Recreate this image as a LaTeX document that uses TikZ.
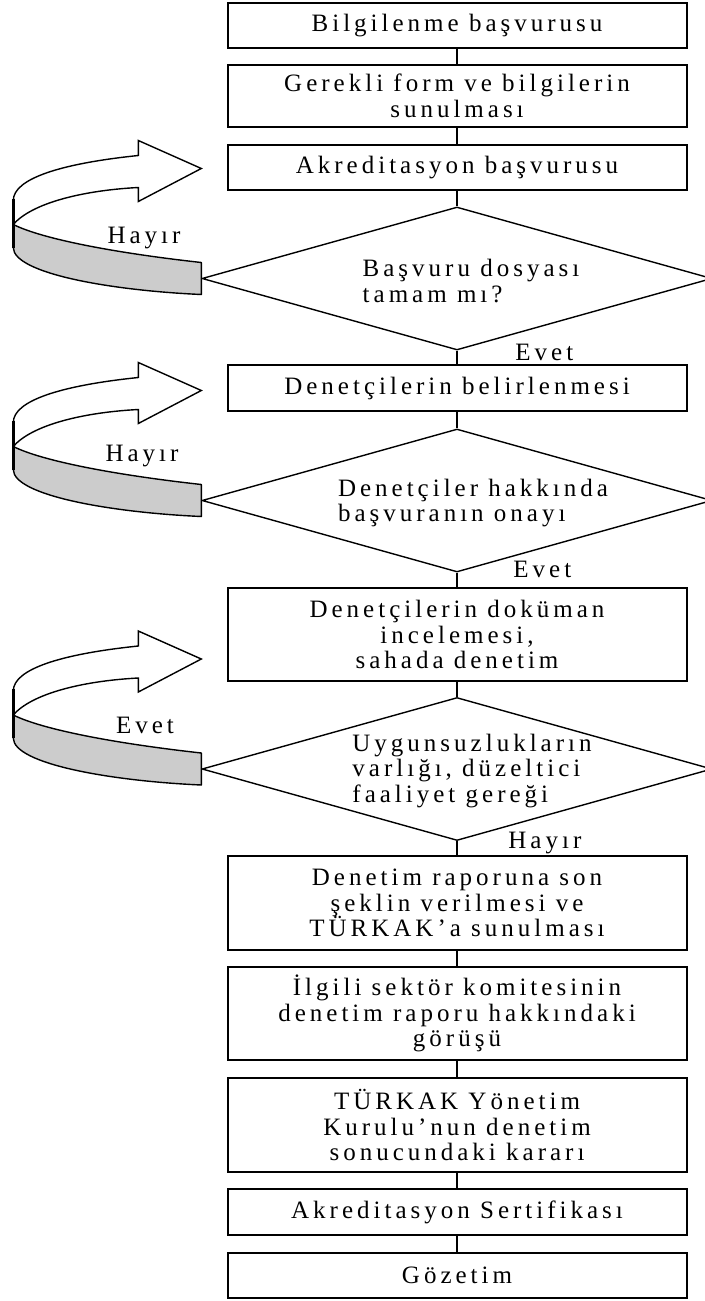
\documentclass[tikz,border=0pt]{standalone}
\usepackage{fontspec}
\setmainfont{Liberation Serif}[LetterSpace=16]
\usetikzlibrary{shapes.geometric}

\tikzset{
  txt/.style={font=\fontsize{12.5}{12.8}\selectfont, inner sep=0pt},
  stepbox/.style={draw, line width=1pt, minimum width=229.5pt, align=center, txt},
  dia/.style={draw, shape=diamond, line width=0.7pt, minimum width=255pt, minimum height=71.5pt, inner sep=0pt},
  dtext/.style={align=left, txt},
  link/.style={line width=1pt},
  % 3D ribbon arrow looping back from a decision to the step above it;
  % origin is the right end of the grey band
  loop arrow/.pic={
    \fill[gray!40] (-188,-54) -- (-188,-31)
      .. controls (-188,-5) and (-90,12) .. (0,16) -- (0,-16)
      .. controls (-90,-26) and (-160,-40) .. (-188,-54) -- cycle;
    \draw[line width=0.7pt, line join=round]
      (-188,-31) .. controls (-188,-5) and (-90,12) .. (0,16) -- (0,-16)
      .. controls (-90,-26) and (-160,-40) .. (-188,-54);
    \draw[fill=white, line width=0.7pt, line join=miter]
      (-63,-123) -- (-63,-138) -- (0,-110) -- (-63,-77) -- (-63,-91)
      .. controls (-120,-88) and (-170,-75) .. (-188,-54)
      -- (-188,-78)
      .. controls (-188,-100) and (-140,-115) .. (-63,-123) -- cycle;
    \draw[line width=1.3pt] (-188,-80) -- (-188,-31);
  }
}

\begin{document}
\begin{tikzpicture}[x=0.5pt, y=-0.5pt]
\useasboundingbox (0,0) rectangle (705,1301);

% process steps and decisions
\node[stepbox, minimum height=22.5pt] (b1) at (457,25.5) {Bilgilenme başvurusu};
\node[stepbox, minimum height=31pt] (b2) at (457,96) {Gerekli form ve bilgilerin\\sunulması};
\node[stepbox, minimum height=22.5pt] (b3) at (457,167.5) {Akreditasyon başvurusu};
\node[dia] (d1) at (457,278.5) {};
\node[dtext] at (471,281) {Başvuru dosyası\\tamam mı?};
\node[stepbox, minimum height=23pt] (b4) at (457,388) {Denetçilerin belirlenmesi};
\node[dia] (d2) at (457,500.5) {};
\node[dtext] at (473,503) {Denetçiler hakkında\\başvuranın onayı};
\node[stepbox, minimum height=46.5pt] (b5) at (457,634.5) {Denetçilerin doküman\\incelemesi,\\sahada denetim};
\node[dia] (d3) at (457,769) {};
\node[dtext] at (472,771) {Uygunsuzlukların\\varlığı, düzeltici\\faaliyet gereği};
\node[stepbox, minimum height=47pt] (b6) at (457,903) {Denetim raporuna son\\şeklin verilmesi ve\\TÜRKAK’a sunulması};
\node[stepbox, minimum height=46.5pt] (b7) at (457,1013.5) {İlgili sektör komitesinin\\denetim raporu hakkındaki\\görüşü};
\node[stepbox, minimum height=47pt] (b8) at (457,1125) {TÜRKAK Yönetim\\Kurulu’nun denetim\\sonucundaki kararı};
\node[stepbox, minimum height=23pt] (b9) at (457,1212) {Akreditasyon Sertifikası};
\node[stepbox, minimum height=22.5pt] (b10) at (457,1275.5) {Gözetim};

% vertical connectors
\draw[link] (b1) -- (b2);
\draw[link] (b2) -- (b3);
\draw[link] (b3) -- (d1);
\draw[link] (d1) -- (b4);
\draw[link] (b4) -- (d2);
\draw[link] (d2) -- (b5);
\draw[link] (b5) -- (d3);
\draw[link] (d3) -- (b6);
\draw[link] (b6) -- (b7);
\draw[link] (b7) -- (b8);
\draw[link] (b8) -- (b9);
\draw[link] (b9) -- (b10);

% loop-back arrows
\pic at (d1.west) {loop arrow};
\pic at (d2.west) {loop arrow};
\pic at (d3.west) {loop arrow};

% branch labels
\node[txt] (l1) at (144,238) {Hayır};
\node[txt] (l2) at (142,456) {Hayır};
\node[txt] (l3) at (145,725) {Evet};
\node[txt, anchor=west] (e1) at (515,352) {Evet};
\node[txt, anchor=west] (e2) at (513,569) {Evet};
\node[txt, anchor=west] (h3) at (508,843) {Hayır};
\end{tikzpicture}
\end{document}
